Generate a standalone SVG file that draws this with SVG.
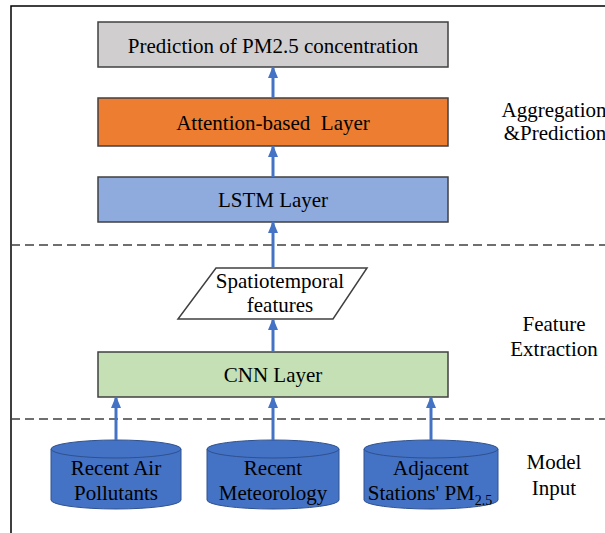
<svg xmlns="http://www.w3.org/2000/svg" width="605" height="533" viewBox="0 0 605 533">
<defs>
<marker id="ah" viewBox="0 0 12 10" refX="11" refY="5" markerWidth="12" markerHeight="10" markerUnits="userSpaceOnUse" orient="auto">
<path d="M0,0 L12,5 L0,10 Z" fill="#4472C4"/>
</marker>
<style>
.t{font-family:'Liberation Serif','Times New Roman',serif;font-size:21px;fill:#000;text-anchor:middle}
.box{stroke:#404040;stroke-width:1.5}
.dash{stroke:#404040;stroke-width:1.5;stroke-dasharray:9,5;fill:none}
.arr{stroke:#4472C4;stroke-width:3;fill:none;marker-end:url(#ah)}
.cyl{fill:#4472C4;stroke:#2F528F;stroke-width:1}
</style>
</defs>
<rect width="605" height="533" fill="#fff"/>
<path d="M11,533 V6 H605" fill="none" stroke="#000" stroke-width="1.5"/>
<g id="dividers">
<line class="dash" x1="11" y1="245" x2="605" y2="245"/>
<line class="dash" x1="11" y1="419" x2="605" y2="419"/>
</g>
<g id="prediction">
<rect class="box" x="98" y="22" width="350" height="45" fill="#D0CECE"/>
<text class="t" x="273" y="53">Prediction of PM2.5 concentration</text>
</g>
<g id="attention">
<rect class="box" x="98" y="98" width="350" height="48" fill="#ED7D31"/>
<text class="t" x="273" y="130" xml:space="preserve">Attention-based  Layer</text>
</g>
<g id="lstm">
<rect class="box" x="98" y="177" width="350" height="45" fill="#8FAADC"/>
<text class="t" x="273" y="207">LSTM Layer</text>
</g>
<g id="features">
<polygon points="216,268 367,268 333,319 178,319" fill="#fff" stroke="#404040" stroke-width="1.5"/>
<text class="t" x="280" y="288">Spatiotemporal</text>
<text class="t" x="280" y="312">features</text>
</g>
<g id="cnn">
<rect class="box" x="98" y="352" width="350" height="45" fill="#C5E0B4"/>
<text class="t" x="273" y="382">CNN Layer</text>
</g>
<g id="air">
<path class="cyl" d="M51,449 V500 A65,9 0 0 0 181,500 V449 Z"/>
<ellipse class="cyl" cx="116" cy="449" rx="65" ry="9"/>
<text class="t" x="116" y="475">Recent Air</text>
<text class="t" x="116" y="500">Pollutants</text>
</g>
<g id="meteo">
<path class="cyl" d="M207,449 V500 A66,9 0 0 0 339,500 V449 Z"/>
<ellipse class="cyl" cx="273" cy="449" rx="66" ry="9"/>
<text class="t" x="273" y="475">Recent</text>
<text class="t" x="273" y="500">Meteorology</text>
</g>
<g id="adjacent">
<path class="cyl" d="M364,449 V500 A67,9 0 0 0 498,500 V449 Z"/>
<ellipse class="cyl" cx="431" cy="449" rx="67" ry="9"/>
<text class="t" x="431" y="475">Adjacent</text>
<text class="t" x="430" y="500">Stations' PM<tspan dy="5" font-size="14">2.5</tspan></text>
</g>
<g id="labels">
<text class="t" x="554" y="117">Aggregation</text>
<text class="t" x="555" y="140">&amp;Prediction</text>
<text class="t" x="554" y="331">Feature</text>
<text class="t" x="554" y="356">Extraction</text>
<text class="t" x="554" y="469">Model</text>
<text class="t" x="554" y="495">Input</text>
</g>
<g id="connectors">
<line class="arr" x1="273" y1="98" x2="273" y2="67"/>
<line class="arr" x1="273" y1="177" x2="273" y2="146"/>
<line class="arr" x1="273" y1="268" x2="273" y2="222"/>
<line class="arr" x1="273" y1="352" x2="273" y2="319"/>
<line class="arr" x1="116" y1="440" x2="116" y2="397"/>
<line class="arr" x1="273" y1="440" x2="273" y2="397"/>
<line class="arr" x1="431" y1="440" x2="431" y2="397"/>
</g>
</svg>
